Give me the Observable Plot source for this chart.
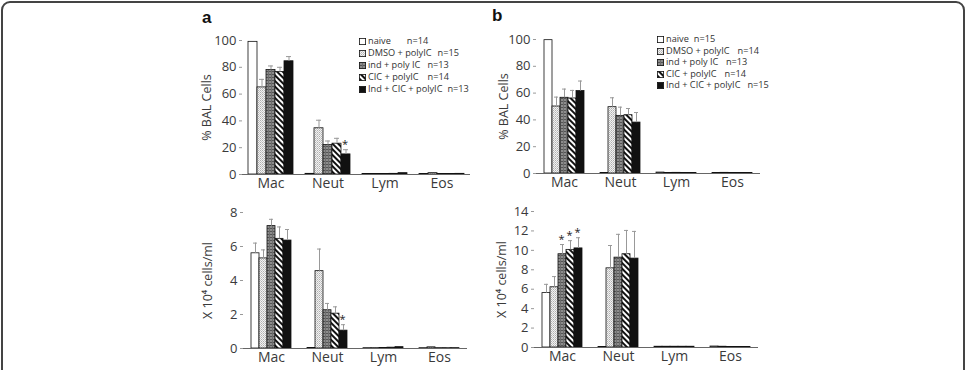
<!DOCTYPE html>
<html><head><meta charset="utf-8">
<script src="https://cdn.jsdelivr.net/npm/d3@7"></script>
<script src="https://cdn.jsdelivr.net/npm/@observablehq/plot@0.6"></script>
<style>
body{margin:0;background:#fff;font-family:"Open Sans",sans-serif;}
#fig{position:relative;width:969px;height:370px;overflow:hidden;background:#fff;}
.border{position:absolute;left:1px;top:1px;width:960px;height:420px;border:2px solid #444;border-radius:9px;}
.panel{position:absolute;}
.panel svg{overflow:visible;}
.lbl{position:absolute;font:bold 17px "Liberation Sans",Arial,sans-serif;color:#111;}
.legend{position:absolute;font-size:9.2px;color:#333;white-space:pre;}
.legend svg{vertical-align:-1px;margin-right:2px;}
.legend span.n{display:inline-block;}
</style></head>
<body>
<svg width="0" height="0" style="position:absolute">
  <defs>
    <pattern id="pNaive" width="4" height="4" patternUnits="userSpaceOnUse"><rect width="4" height="4" fill="#fff"/></pattern>
    <pattern id="pDmso" width="2" height="2" patternUnits="userSpaceOnUse"><rect width="2" height="2" fill="#f2f2f2"/><rect width="1" height="1" fill="#b0b0b0"/><rect x="1" y="1" width="1" height="1" fill="#c8c8c8"/></pattern>
    <pattern id="pInd" width="3" height="3" patternUnits="userSpaceOnUse"><rect width="3" height="3" fill="#8c8c8c"/><rect width="3" height="1" fill="#555"/><rect width="1" height="3" fill="#6e6e6e"/></pattern>
    <pattern id="pCic" width="4" height="4" patternUnits="userSpaceOnUse" patternTransform="rotate(-45)"><rect width="4" height="4" fill="#fff"/><rect width="2" height="4" fill="#111"/></pattern>
    <pattern id="pBoth" width="4" height="4" patternUnits="userSpaceOnUse"><rect width="4" height="4" fill="#111"/></pattern>
  </defs>
</svg>
<div id="fig">
  <div class="border"></div>
  <div class="lbl" style="left:202px;top:8px">a</div>
  <div class="lbl" style="left:492px;top:6px">b</div>
</div>
<script>
// ---- data ----
const categories = ["Mac", "Neut", "Lym", "Eos"];
const series = ["naive", "DMSO + polyIC", "ind + poly IC", "CIC + polyIC", "Ind + CIC + polyIC"];
const patternIds = ["pNaive", "pDmso", "pInd", "pCic", "pBoth"];

// panel a, % BAL cells (rows = series, cols = categories)
const aPctValues = [
  [99, 0.5, 0.3, 0.3],
  [65, 34.5, 0.3, 1.0],
  [78, 22, 0.3, 0.3],
  [76.5, 23, 0.5, 0.3],
  [84.5, 15, 1.0, 0.5]
];
const aPctErrors = [
  [0, 0, 0, 0],
  [6, 6, 0, 0],
  [3, 3, 0, 0],
  [3.5, 4, 0, 0],
  [3.5, 3.5, 0, 0]
];
const aPctStars = [[1, 4]];
const aPctN = ["n=14", "n=15", "n=13", "n=14", "n=13"];

// panel a, X 10^4 cells/ml
const aCntValues = [
  [5.6, 0.03, 0.02, 0.02],
  [5.3, 4.55, 0.02, 0.07],
  [7.2, 2.25, 0.03, 0.02],
  [6.45, 2.05, 0.05, 0.02],
  [6.35, 1.05, 0.08, 0.02]
];
const aCntErrors = [
  [0.6, 0, 0, 0],
  [0.5, 1.3, 0, 0],
  [0.4, 0.4, 0, 0],
  [0.7, 0.4, 0, 0],
  [0.65, 0.35, 0, 0]
];
const aCntStars = [[1, 4]];

// panel b, % BAL cells
const bPctValues = [
  [99.5, 0.3, 0.7, 0.3],
  [50, 49.5, 0.3, 0.5],
  [56.5, 43, 0.5, 0.3],
  [56, 43.5, 0.3, 0.3],
  [61.5, 38, 0.3, 0.3]
];
const bPctErrors = [
  [0, 0, 0, 0],
  [7, 7, 0, 0],
  [6.5, 6.5, 0, 0],
  [6, 5, 0, 0],
  [7.5, 7.5, 0, 0]
];
const bPctStars = [];
const bPctN = ["n=15", "n=14", "n=13", "n=14", "n=15"];

// panel b, X 10^4 cells/ml
const bCntValues = [
  [5.6, 0.05, 0.08, 0.1],
  [6.2, 8.15, 0.08, 0.08],
  [9.6, 9.25, 0.08, 0.05],
  [10.05, 9.6, 0.08, 0.05],
  [10.2, 9.15, 0.08, 0.05]
];
const bCntErrors = [
  [0.9, 0, 0, 0],
  [1.1, 2.35, 0, 0],
  [1.0, 2.4, 0, 0],
  [0.95, 2.45, 0, 0],
  [1.1, 2.8, 0, 0]
];
const bCntStars = [[0, 2], [0, 3], [0, 4]];

const pctTicks = [0, 20, 40, 60, 80, 100];
const aCntTicks = [0, 2, 4, 6, 8];
const bCntTicks = [0, 2, 4, 6, 8, 10, 12, 14];

// ---- drawing ----
const fig = document.getElementById("fig");
const FONT = "'Open Sans', sans-serif";

function panel(values, errors, stars, ticks, label, box) {
  const data = [];
  series.forEach((s, i) => categories.forEach((c, j) => data.push({cat: c, ser: s, v: values[i][j], e: errors[i][j]})));
  const withErr = data.filter(d => d.e > 0);
  const starData = stars.map(([j, i]) => data.find(d => d.cat === categories[j] && d.ser === series[i]));
  const chart = Plot.plot({
    width: box.w, height: box.h,
    marginLeft: box.ml, marginRight: box.mr, marginTop: box.mt, marginBottom: box.mb,
    style: {fontFamily: FONT, color: "#3a3a3a", background: "transparent", overflow: "visible"},
    fx: {domain: categories, padding: 0, label: null},
    x: {domain: series, paddingInner: 0, paddingOuter: 0.62, axis: null},
    y: {domain: [ticks[0], ticks[ticks.length - 1]], ticks: ticks, line: true},
    marks: [
      ...series.map((s, i) => Plot.barY(data.filter(d => d.ser === s), {
        fx: "cat", x: "ser", y: "v", fill: `url(#${patternIds[i]})`, stroke: "#111", strokeWidth: 0.8
      })),
      Plot.ruleX(withErr, {fx: "cat", x: "ser", y1: "v", y2: d => d.v + d.e, stroke: "#999", strokeWidth: 1}),
      Plot.tickY(withErr, {fx: "cat", x: "ser", y: d => d.v + d.e, stroke: "#999", strokeWidth: 1, insetLeft: 2, insetRight: 2}),
      Plot.text(starData, {fx: "cat", x: "ser", y: d => d.v + d.e, text: () => "*", dy: -5, dx: -1, fontSize: 11, fill: "#222"}),
      Plot.ruleY([0], {stroke: "#666", strokeWidth: 1.2}),
      Plot.axisY({ticks: ticks, tickSize: 3, tickPadding: 3, fontSize: 13, stroke: "#999", fill: "#3a3a3a",
        label: label, labelAnchor: "center", labelOffset: box.lo, labelArrow: "none"}),
      Plot.axisFx({anchor: "bottom", tickSize: 0, tickPadding: 4, fontSize: 14, fill: "#3a3a3a", label: null})
    ]
  });
  d3.select(chart).selectAll("[aria-label='y-axis label'] text, [aria-label='y-axis label']").style("font-size", box.lf + "px");
  const div = document.createElement("div");
  div.className = "panel";
  div.style.left = box.x + "px";
  div.style.top = box.y + "px";
  div.appendChild(chart);
  fig.appendChild(div);
}

function legend(nLabels, x, y, lineH, gaps) {
  const div = document.createElement("div");
  div.className = "legend";
  div.style.left = x + "px";
  div.style.top = y + "px";
  div.style.lineHeight = lineH + "px";
  div.innerHTML = series.map((s, i) =>
    `<div><svg width="7" height="7"><rect x="0.4" y="0.4" width="6.2" height="6.2" fill="url(#${patternIds[i]})" stroke="#111" stroke-width="0.8"/></svg>${s}<span class="n" style="margin-left:${gaps[i]}px">${nLabels[i]}</span></div>`
  ).join("");
  fig.appendChild(div);
}

panel(aPctValues, aPctErrors, aPctStars, pctTicks, "% BAL Cells",
  {x: 190, y: 20, w: 290, h: 172, ml: 52, mr: 10, mt: 20, mb: 18, lo: 40, lf: 12.5});
panel(aCntValues, aCntErrors, aCntStars, aCntTicks, "X 10\u2074 cells/ml",
  {x: 190, y: 195, w: 287, h: 175, ml: 52, mr: 10, mt: 17, mb: 22, lo: 40, lf: 12.5});
panel(bPctValues, bPctErrors, bPctStars, pctTicks, "% BAL Cells",
  {x: 490, y: 20, w: 280, h: 172, ml: 45, mr: 10, mt: 19, mb: 19, lo: 37, lf: 12.5});
panel(bCntValues, bCntErrors, bCntStars, bCntTicks, "X 10\u2074 cells/ml",
  {x: 490, y: 195, w: 278, h: 175, ml: 43, mr: 10, mt: 16, mb: 23, lo: 37, lf: 12.5});

legend(aPctN, 359, 35, 12, [16, 6, 7, 9, 5]);
legend(bPctN, 657, 33, 11.5, [5, 8, 7.5, 8, 7]);
</script>
</body></html>
